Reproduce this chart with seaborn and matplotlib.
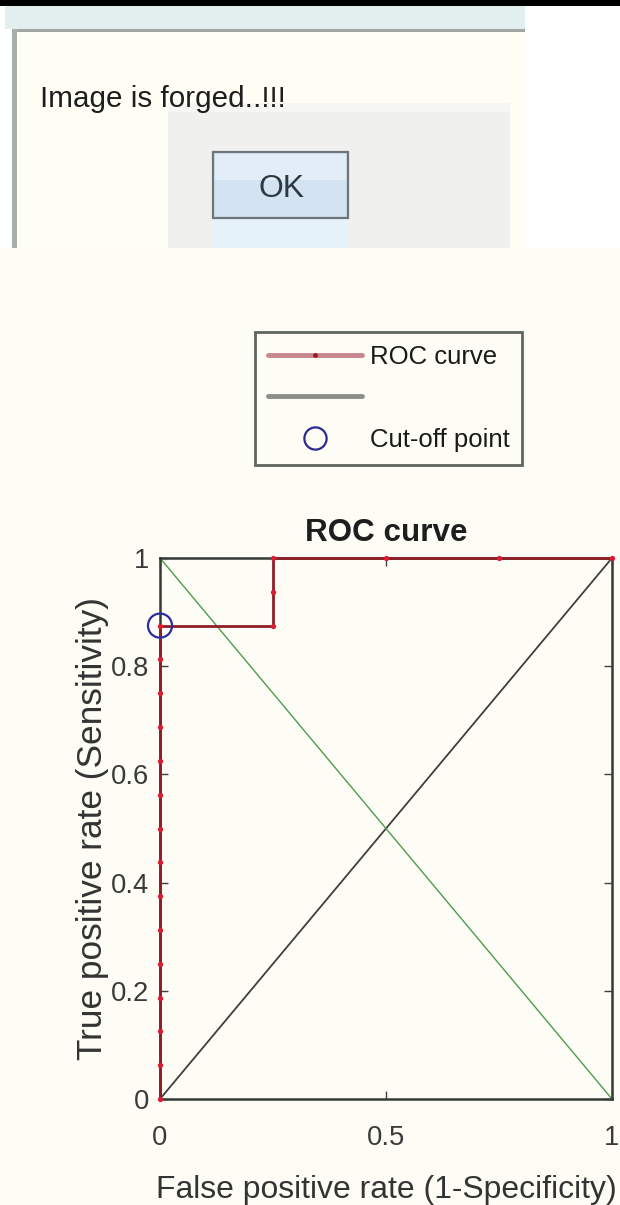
import matplotlib
matplotlib.use("Agg")
import matplotlib.pyplot as plt
from matplotlib import font_manager
from matplotlib.patches import Rectangle
from matplotlib.lines import Line2D
import seaborn as sns

# ---------------- data ----------------
roc_fpr = [0, 0, 0, 0, 0, 0, 0, 0, 0, 0, 0, 0, 0, 0, 0,
           0.25, 0.25, 0.25, 0.5, 0.75, 1.0]
roc_tpr = [0, 0.0625, 0.125, 0.1875, 0.25, 0.3125, 0.375, 0.4375, 0.5,
           0.5625, 0.625, 0.6875, 0.75, 0.8125, 0.875,
           0.875, 0.9375, 1.0, 1.0, 1.0, 1.0]
chance_x = [0, 1]
chance_y = [0, 1]
anti_x = [0, 1]
anti_y = [1, 0]
cut_fpr = [0]
cut_tpr = [0.875]
xtick_vals = [0, 0.5, 1]
xtick_labels = ["0", "0.5", "1"]
ytick_vals = [0, 0.2, 0.4, 0.6, 0.8, 1]
ytick_labels = ["0", "0.2", "0.4", "0.6", "0.8", "1"]
legend_labels = ["ROC curve", "", "Cut-off point"]
title_text = "ROC curve"
xlabel_text = "False positive rate (1-Specificity)"
ylabel_text = "True positive rate (Sensitivity)"
dialog_text = "Image is forged..!!!"
button_text = "OK"

# ---------------- style ----------------
sns.set_theme(style="ticks")
installed = {f.name for f in font_manager.fontManager.ttflist}
if "Liberation Sans Narrow" in installed:
    FAM = ["Liberation Sans Narrow", "Liberation Sans", "DejaVu Sans"]
    k = 1.0
else:
    FAM = ["Liberation Sans", "DejaVu Sans"]
    k = 0.82
plt.rcParams["font.family"] = FAM
BG = "#fdfdf6"

W, H = 620, 1205
fig = plt.figure(figsize=(W / 100, H / 100), dpi=100, facecolor=BG)

# ---------------- screenshot dialog (decoration, pixel coords) ----------------
bg = fig.add_axes([0, 0, 1, 1], zorder=0)
bg.set_xlim(0, W)
bg.set_ylim(H, 0)
bg.axis("off")
bg.set_facecolor(BG)

def rect(x0, y0, x1, y1, fc, ec="none", lw=0, z=1):
    bg.add_patch(Rectangle((x0, y0), x1 - x0, y1 - y0, facecolor=fc,
                           edgecolor=ec, linewidth=lw, zorder=z))

rect(0, 0, W, 248, "#ffffff", z=1)           # white screen area
rect(0, 0, W, 6, "#000000", z=2)             # black top band
rect(5, 6, 525, 29, "#e3eeee", z=2)          # title bar strip
rect(12, 29, 525, 32, "#a2a6a2", z=3)        # top border line
rect(12, 29, 17, 248, "#a9b0a9", z=3)        # left border
rect(17, 32, 525, 248, "#fffef5", z=2)       # dialog interior
rect(168, 103, 510, 248, "#f0f0ef", z=3)     # gray button panel
rect(168, 103, 510, 112, "#f6f6f4", z=3)
rect(213, 218, 348, 248, "#e6f2f9", z=4)     # glow below button
rect(213, 152, 348, 218, "#d3e3f1", ec="#6d7579", lw=1.6, z=5)  # OK button
rect(215, 154, 346, 180, "#e2edf7", z=5)
bg.text(40, 99, dialog_text, fontsize=26 * k, color="#1e1e1e",
        va="center", ha="left", zorder=6)
bg.text(281, 189, button_text, fontsize=28 * k, color="#2f3944",
        va="center", ha="center", zorder=6)

# ---------------- ROC axes ----------------
ax = fig.add_axes([160 / W, 1 - 1099 / H, 452 / W, 541 / H], zorder=2)
ax.set_facecolor(BG)

sns.lineplot(x=chance_x, y=chance_y, ax=ax, color="#3e3e3e", linewidth=1.3,
             estimator=None, sort=False)
sns.lineplot(x=anti_x, y=anti_y, ax=ax, color="#4c9c4c", linewidth=1.0,
             estimator=None, sort=False)
sns.lineplot(x=roc_fpr, y=roc_tpr, ax=ax, color="#8e1e26", linewidth=2.0,
             marker="o", markersize=3.8, markeredgewidth=0,
             markerfacecolor="#dc1a30", estimator=None, sort=False)
sns.scatterplot(x=cut_fpr, y=cut_tpr, ax=ax, marker="o", s=300)
sc = ax.collections[-1]
sc.set_facecolor("none")
sc.set_edgecolor("#2c2ca0")
sc.set_linewidth(1.6)
sc.set_clip_on(False)
sc.set_zorder(5)

for ln in ax.lines:
    ln.set_clip_on(False)
ax.lines[-1].set_zorder(4)

ax.set_xlim(0, 1)
ax.set_ylim(0, 1)
ax.set_xticks(xtick_vals)
ax.set_xticklabels(xtick_labels)
ax.set_yticks(ytick_vals)
ax.set_yticklabels(ytick_labels)
ax.tick_params(direction="in", length=6, width=1, color="#404040",
               top=True, right=True, labelsize=24 * k, labelcolor="#3a3a3a")
ax.tick_params(axis="x", pad=19)
ax.tick_params(axis="y", pad=8)
for sp in ax.spines.values():
    sp.set_visible(True)
    sp.set_color("#343a34")
    sp.set_linewidth(1.8)

ax.set_title(title_text, fontsize=27.5 * k, fontweight="bold", color="#1e1e1e", pad=12)
ax.set_xlabel(xlabel_text, fontsize=28 * k, color="#333333", labelpad=17)
ax.set_ylabel(ylabel_text, fontsize=31 * k, color="#333333", labelpad=1)

# ---------------- legend (outside, above the axes) ----------------
handles = [
    Line2D([], [], color="#c8868e", linewidth=3.5, marker="o", markersize=3.5,
           markerfacecolor="#a01828", markeredgewidth=0),
    Line2D([], [], color="#8c8e88", linewidth=3.5),
    Line2D([], [], linestyle="none", marker="o", markersize=16,
           markerfacecolor="none", markeredgecolor="#2a2a90", markeredgewidth=1.6),
]
leg_fs = 18.5
em = leg_fs * 100 / 72
leg = fig.legend(handles, legend_labels, loc="upper left",
                 bbox_to_anchor=(255 / W, 1 - 332 / H), borderaxespad=0,
                 fontsize=leg_fs, handlelength=94 / em,
                 handletextpad=8 / em,
                 labelspacing=0.68, borderpad=0.5, numpoints=1,
                 fancybox=False, frameon=True, facecolor=BG,
                 edgecolor="#5e665e", framealpha=1)
leg.get_frame().set_linewidth(2.0)
for t in leg.get_texts():
    t.set_color("#1a1a1a")

fig.savefig("out.png", dpi=100, facecolor=BG)
